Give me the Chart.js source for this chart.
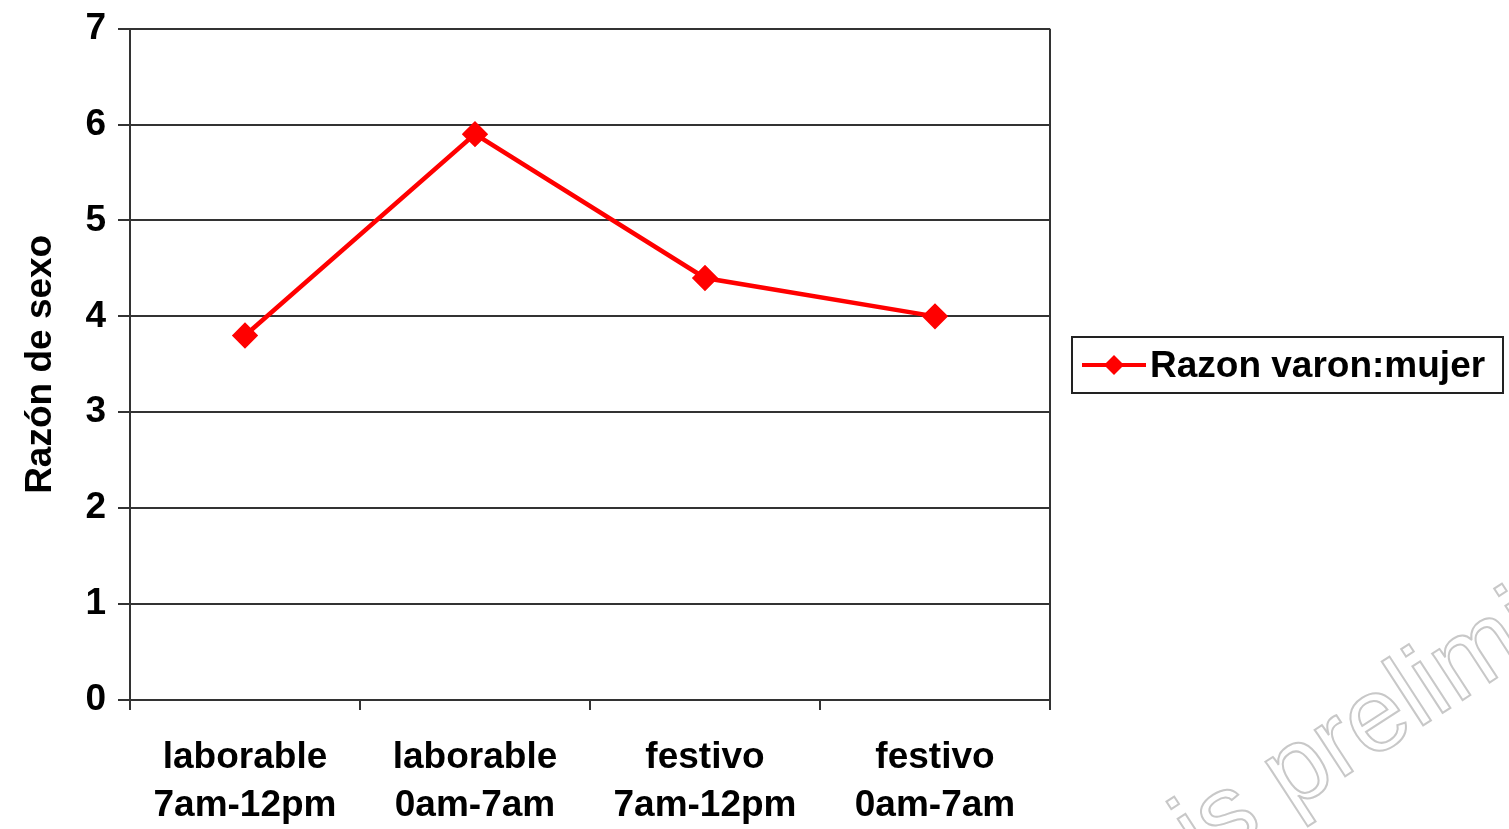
<!DOCTYPE html>
<html>
<head>
<meta charset="utf-8">
<script src="https://cdn.jsdelivr.net/npm/chart.js@4"></script>
<style>
  html, body { margin: 0; padding: 0; background: #fff; }
  #wrap { width: 1509px; height: 829px; }
</style>
</head>
<body>
<div id="wrap"><canvas id="chart" width="1509" height="829"></canvas></div>
<script>
const categories = [
  ['laborable', '7am-12pm'],
  ['laborable', '0am-7am'],
  ['festivo', '7am-12pm'],
  ['festivo', '0am-7am']
];
const seriesName = 'Razon varon:mujer';
const ratioValues = [3.8, 5.9, 4.4, 4.0];
const yTicks = [0, 1, 2, 3, 4, 5, 6, 7];
const yTitle = 'Razón de sexo';
const watermark = ['análisis ', 'preliminar'];

const FONT = '"Liberation Sans", Arial, sans-serif';
const RED = '#ff0000';

// right border, legend box and faint watermark
const extras = {
  id: 'extras',
  beforeDatasetsDraw(chart) {
    const { ctx, chartArea } = chart;
    ctx.save();
    ctx.strokeStyle = '#333';
    ctx.lineWidth = 2;
    ctx.beginPath();
    ctx.moveTo(chartArea.right, chartArea.top);
    ctx.lineTo(chartArea.right, chartArea.bottom);
    ctx.stroke();
    ctx.restore();
  },
  afterDraw(chart) {
    const { ctx } = chart;
    const ds = chart.data.datasets[0];
    ctx.save();
    // legend
    ctx.strokeStyle = '#222';
    ctx.lineWidth = 2;
    ctx.strokeRect(1072, 337, 431, 56);
    ctx.strokeStyle = ds.borderColor;
    ctx.lineWidth = 4;
    ctx.beginPath();
    ctx.moveTo(1082, 365);
    ctx.lineTo(1146, 365);
    ctx.stroke();
    ctx.fillStyle = ds.borderColor;
    ctx.beginPath();
    ctx.moveTo(1114, 355);
    ctx.lineTo(1124, 365);
    ctx.lineTo(1114, 375);
    ctx.lineTo(1104, 365);
    ctx.closePath();
    ctx.fill();
    ctx.fillStyle = '#000';
    ctx.font = 'bold 37px ' + FONT;
    ctx.textBaseline = 'middle';
    ctx.fillText(ds.label, 1150, 367);
    // watermark
    ctx.translate(1290, 812);
    ctx.rotate(-33 * Math.PI / 180);
    ctx.font = '105px ' + FONT;
    ctx.strokeStyle = '#c8c8c8';
    ctx.lineWidth = 2;
    ctx.textBaseline = 'alphabetic';
    ctx.textAlign = 'right';
    ctx.strokeText(watermark[0], 0, 0);
    ctx.textAlign = 'left';
    ctx.strokeText(watermark[1], 0, 0);
    ctx.restore();
  }
};

new Chart(document.getElementById('chart'), {
  type: 'line',
  data: {
    labels: categories,
    datasets: [{
      label: seriesName,
      data: ratioValues,
      borderColor: RED,
      backgroundColor: RED,
      borderWidth: 4.5,
      pointStyle: 'rectRot',
      pointRadius: 10,
      pointHoverRadius: 10,
      tension: 0
    }]
  },
  options: {
    responsive: false,
    animation: false,
    layout: { padding: { top: 28, right: 459, left: 0, bottom: 0 } },
    plugins: {
      legend: { display: false },
      tooltip: { enabled: false }
    },
    scales: {
      x: {
        offset: true,
        grid: { drawOnChartArea: false, color: '#333', lineWidth: 2, tickLength: 10, offset: true },
        border: { color: '#333', width: 2 },
        ticks: {
          color: '#000',
          font: { family: FONT, size: 37, weight: 'bold', lineHeight: 1.3 },
          padding: 24,
          maxRotation: 0
        },
        afterFit(scale) { scale.height = 129; }
      },
      y: {
        min: 0,
        max: 7,
        afterBuildTicks(scale) { scale.ticks = yTicks.map(v => ({ value: v })); },
        grid: { color: '#333', lineWidth: 2, tickLength: 12 },
        border: { color: '#333', width: 2 },
        ticks: {
          color: '#000',
          font: { family: FONT, size: 37, weight: 'bold', lineHeight: 0.9 },
          padding: 12
        },
        title: {
          display: true,
          text: yTitle,
          color: '#000',
          font: { family: FONT, size: 37, weight: 'bold' },
          padding: { top: 19, bottom: 0 }
        },
        afterFit(scale) { scale.width = 130; }
      }
    }
  },
  plugins: [extras]
});
</script>
</body>
</html>
